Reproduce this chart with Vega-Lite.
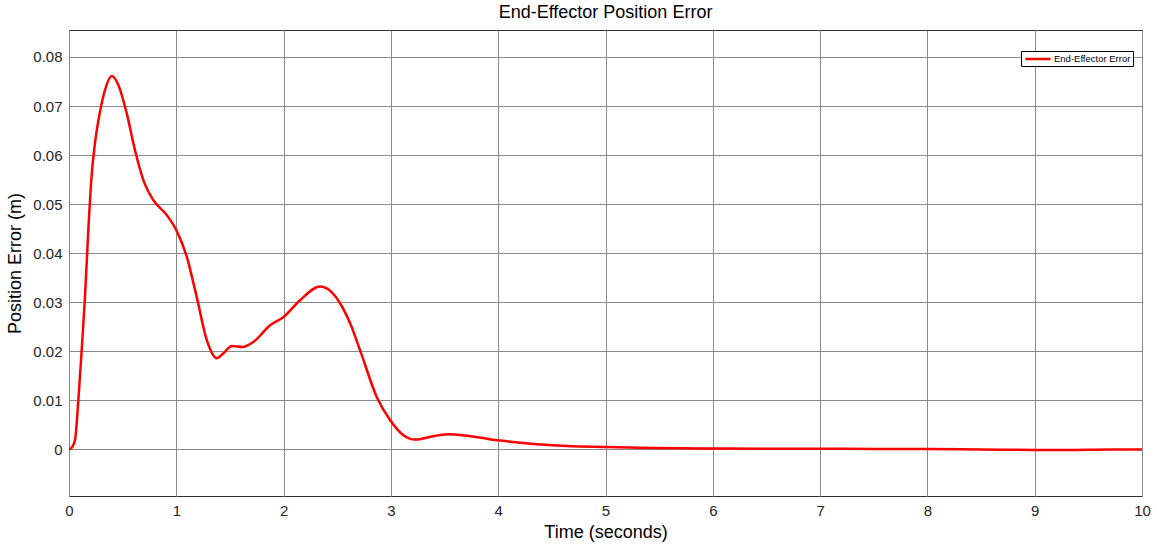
{
  "$schema": "https://vega.github.io/schema/vega-lite/v6.json",
  "autosize": {"type": "none"},
  "width": 1073,
  "height": 466,
  "padding": {"left": 69, "top": 30, "right": 15, "bottom": 56},
  "background": "white",
  "title": {
    "text": "End-Effector Position Error",
    "font": "Liberation Sans",
    "fontSize": 18,
    "fontWeight": "normal",
    "color": "#000000",
    "anchor": "middle",
    "offset": 8
  },
  "config": {
    "font": "Liberation Sans",
    "view": {"stroke": "#333333", "strokeWidth": 1},
    "axis": {
      "labelFont": "Liberation Sans",
      "titleFont": "Liberation Sans",
      "labelColor": "#262626",
      "titleColor": "#000000",
      "labelFontSize": 15,
      "titleFontSize": 18,
      "titleFontWeight": "normal",
      "gridColor": "#8a8a8a",
      "gridOpacity": 1,
      "gridWidth": 1,
      "domain": false,
      "ticks": false
    }
  },
  "data": {
    "values": [
      {"t": 0, "v": 0},
      {"t": 0.03, "v": 0.0005},
      {"t": 0.056, "v": 0.0019},
      {"t": 0.087, "v": 0.010},
      {"t": 0.118, "v": 0.0202},
      {"t": 0.149, "v": 0.0311},
      {"t": 0.18, "v": 0.0447},
      {"t": 0.21, "v": 0.0556},
      {"t": 0.242, "v": 0.0624},
      {"t": 0.286, "v": 0.0685},
      {"t": 0.336, "v": 0.0733},
      {"t": 0.398, "v": 0.0761},
      {"t": 0.46, "v": 0.0743},
      {"t": 0.538, "v": 0.0685},
      {"t": 0.615, "v": 0.061},
      {"t": 0.693, "v": 0.0549},
      {"t": 0.786, "v": 0.0508},
      {"t": 0.91, "v": 0.0478},
      {"t": 1.0, "v": 0.0447},
      {"t": 1.097, "v": 0.0393},
      {"t": 1.19, "v": 0.0311},
      {"t": 1.284, "v": 0.0223},
      {"t": 1.377, "v": 0.0186},
      {"t": 1.439, "v": 0.0196},
      {"t": 1.517, "v": 0.0211},
      {"t": 1.625, "v": 0.0209},
      {"t": 1.718, "v": 0.0219},
      {"t": 1.874, "v": 0.0253},
      {"t": 2.0, "v": 0.027},
      {"t": 2.153, "v": 0.0304},
      {"t": 2.34, "v": 0.0332},
      {"t": 2.45, "v": 0.032},
      {"t": 2.526, "v": 0.0298},
      {"t": 2.62, "v": 0.0257},
      {"t": 2.713, "v": 0.0202},
      {"t": 2.868, "v": 0.0107},
      {"t": 2.992, "v": 0.006},
      {"t": 3.117, "v": 0.0029},
      {"t": 3.226, "v": 0.002},
      {"t": 3.396, "v": 0.0027},
      {"t": 3.552, "v": 0.0031},
      {"t": 3.769, "v": 0.0026},
      {"t": 4.018, "v": 0.0018},
      {"t": 4.328, "v": 0.0011},
      {"t": 4.64, "v": 0.0007},
      {"t": 5.013, "v": 0.0005},
      {"t": 5.42, "v": 0.0003},
      {"t": 5.88, "v": 0.0002},
      {"t": 6.5, "v": 0.00015},
      {"t": 7.0, "v": 0.00015},
      {"t": 7.5, "v": 0.0001},
      {"t": 8.0, "v": 0.0001},
      {"t": 8.5, "v": 0.0},
      {"t": 9.0, "v": -0.0001},
      {"t": 9.3, "v": -0.0001},
      {"t": 9.7, "v": 0.0},
      {"t": 10, "v": 0.0}
    ]
  },
  "mark": {"type": "line", "strokeWidth": 2.5, "interpolate": "monotone", "clip": true},
  "encoding": {
    "x": {
      "field": "t",
      "type": "quantitative",
      "scale": {"domain": [0, 10], "nice": false, "zero": false},
      "axis": {
        "title": "Time (seconds)",
        "values": [0, 1, 2, 3, 4, 5, 6, 7, 8, 9, 10],
        "format": "d",
        "labelPadding": 7,
        "titlePadding": 5,
        "labelFlush": false
      }
    },
    "y": {
      "field": "v",
      "type": "quantitative",
      "scale": {"domain": [-0.0095, 0.0855], "nice": false, "zero": false},
      "axis": {
        "title": "Position Error (m)",
        "values": [0, 0.01, 0.02, 0.03, 0.04, 0.05, 0.06, 0.07, 0.08],
        "format": "~g",
        "labelPadding": 7,
        "titlePadding": 8
      }
    },
    "color": {
      "datum": "End-Effector Error",
      "type": "nominal",
      "scale": {"range": ["#ff0000"]},
      "legend": {
        "title": null,
        "orient": "none",
        "legendX": 952,
        "legendY": 21,
        "symbolType": "M-2.8,0H2.8",
        "symbolSize": 80,
        "symbolOffset": 9,
        "symbolStrokeWidth": 2.5,
        "labelFontSize": 9.5,
        "labelColor": "#000000",
        "labelOffset": 10,
        "padding": 2,
        "strokeColor": "#000000",
        "fillColor": "#ffffff",
        "cornerRadius": 0
      }
    }
  }
}
